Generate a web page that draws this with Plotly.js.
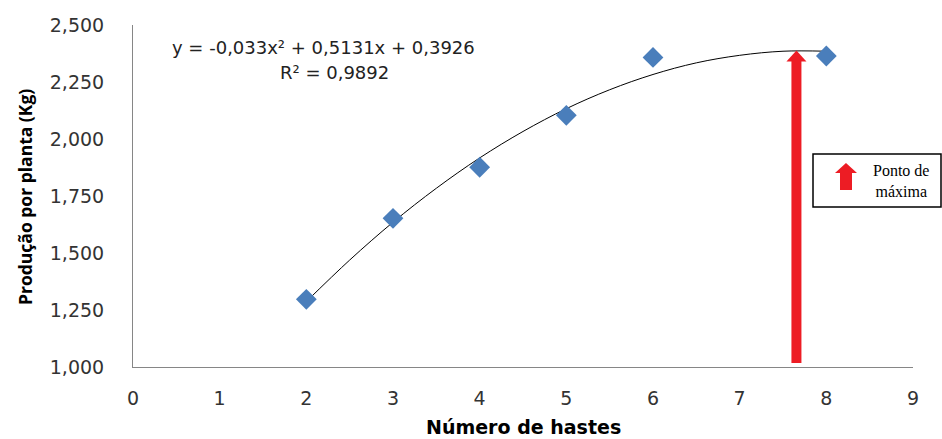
<!DOCTYPE html>
<html>
<head>
<meta charset="utf-8">
<script src="https://cdn.plot.ly/plotly-3.0.1.min.js"></script>
<style>html,body{margin:0;padding:0;background:#fff;}#chart{width:942px;height:439px;}</style>
</head>
<body>
<div id="chart"></div>
<script>
// observed data
var hastes = [2, 3, 4, 5, 6, 8];
var producao = [1.297, 1.652, 1.876, 2.104, 2.358, 2.364];
// trendline
var trendX = [2, 2.5, 3, 3.5, 4, 4.5, 5, 5.5, 6, 6.5, 7, 7.5, 8];
var trendY = [1.287, 1.469, 1.635, 1.784, 1.917, 2.033, 2.133, 2.216, 2.283, 2.334, 2.367, 2.385, 2.385];
// maximum-point arrow
var arrowX = 7.655;
var arrowBottom = 1.017;
var arrowTop = 2.388;
// tick labels
var yTickVals = [1.0, 1.25, 1.5, 1.75, 2.0, 2.25, 2.5];
var yTickText = ["1,000", "1,250", "1,500", "1,750", "2,000", "2,250", "2,500"];
var xTickVals = [0, 1, 2, 3, 4, 5, 6, 7, 8, 9];
var equationText = "y = -0,033x\u00b2 + 0,5131x + 0,3926";
var r2Text = "R\u00b2 = 0,9892";

var red = "#ed1c24";
var tickFont = {family: "DejaVu Sans", size: 19, color: "#333"};

var traces = [
  {x: trendX, y: trendY, mode: "lines", line: {color: "#000", width: 1, shape: "spline"}, hoverinfo: "skip"},
  {x: hastes, y: producao, mode: "markers", marker: {symbol: "diamond", size: 16, color: "#4a7ebb"}}
];

var layout = {
  width: 942, height: 439,
  margin: {l: 133, r: 29, t: 25, b: 72},
  paper_bgcolor: "#fff", plot_bgcolor: "#fff",
  showlegend: false,
  xaxis: {range: [0, 9], tickvals: xTickVals, showgrid: false, zeroline: false,
    showline: true, linecolor: "#868686", linewidth: 1, ticks: "", ticklabelstandoff: 14,
    tickfont: tickFont},
  yaxis: {range: [1.0, 2.5], tickvals: yTickVals, ticktext: yTickText, showgrid: false, zeroline: false,
    showline: true, linecolor: "#868686", linewidth: 1, ticks: "", ticklabelstandoff: 24,
    tickfont: tickFont},
  shapes: [
    {type: "line", xref: "x", yref: "y", x0: arrowX, x1: arrowX, y0: arrowBottom, y1: arrowTop - 0.04,
      line: {color: red, width: 10}},
    {type: "path", xref: "x", yref: "y", xsizemode: "pixel", ysizemode: "pixel",
      xanchor: arrowX, yanchor: arrowTop, path: "M -10,-11 L 10,-11 L 0,0 Z",
      fillcolor: red, line: {width: 0}},
    // legend box
    {type: "rect", xref: "paper", yref: "paper", x0: 0.8718, x1: 1.0359, y0: 0.4678, y1: 0.6228,
      line: {color: "#000", width: 1.5}, fillcolor: "#fff"},
    {type: "path", xref: "paper", yref: "paper", xsizemode: "pixel", ysizemode: "pixel",
      xanchor: 0.9141, yanchor: 0.5965,
      path: "M 0,0 L 11,-10 L 6,-10 L 6,-27 L -6,-27 L -6,-10 L -11,-10 Z",
      fillcolor: red, line: {width: 0}}
  ],
  annotations: [
    {text: equationText, xref: "paper", yref: "paper", x: 0.0474, y: 0.935, xanchor: "left", yanchor: "middle",
      showarrow: false, font: {family: "DejaVu Sans", size: 18, color: "#222"}},
    {text: r2Text, xref: "paper", yref: "paper", x: 0.186, y: 0.86, xanchor: "left", yanchor: "middle",
      showarrow: false, font: {family: "DejaVu Sans", size: 18, color: "#222"}},
    {text: "Ponto de<br>m\u00e1xima", xref: "paper", yref: "paper", x: 0.9846, y: 0.5424, xanchor: "center", yanchor: "middle",
      showarrow: false, font: {family: "Liberation Serif", size: 16, color: "#000"}},
    {text: "<b>N\u00famero de hastes</b>", xref: "paper", yref: "paper", x: 0.5, y: 0, yshift: -60, xanchor: "center", yanchor: "middle",
      showarrow: false, font: {family: "DejaVu Sans", size: 19, color: "#000"}},
    {text: "<b>Produ\u00e7\u00e3o por planta (Kg)</b>", xref: "paper", yref: "paper", x: 0, xshift: -108, y: 0.497, xanchor: "center", yanchor: "middle",
      textangle: -90, showarrow: false, font: {family: "Open Sans", size: 17.5, color: "#000"}}
  ]
};

Plotly.newPlot("chart", traces, layout, {displayModeBar: false, staticPlot: true});
</script>
</body>
</html>
